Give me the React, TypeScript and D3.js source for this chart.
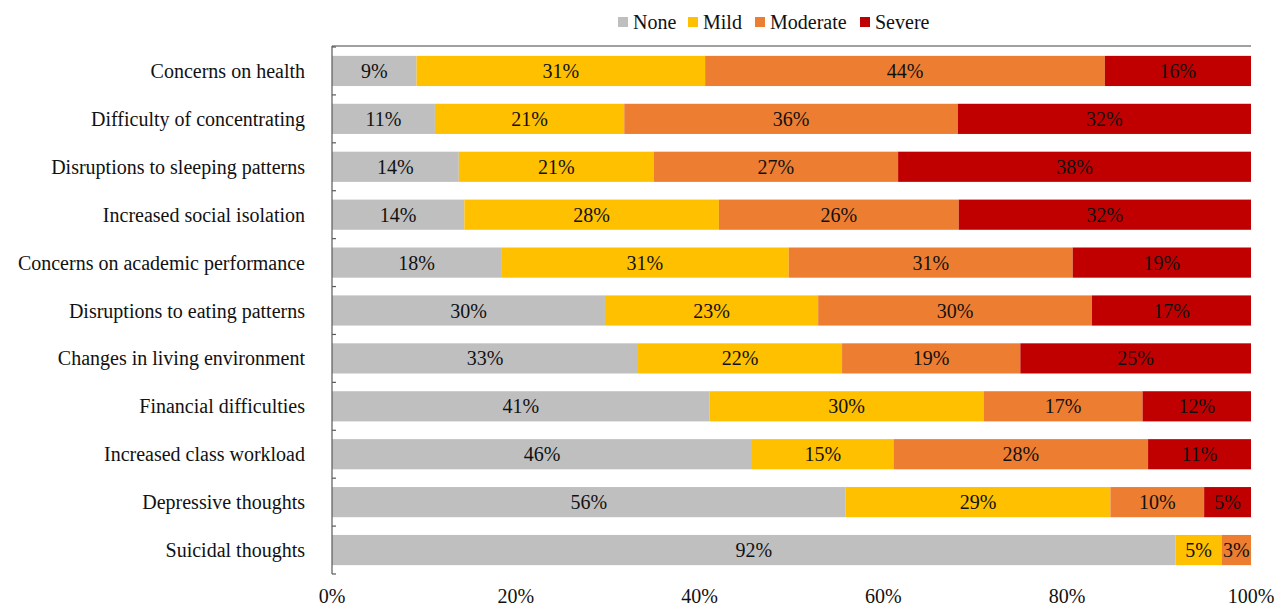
import React from "react";
import * as d3 from "d3";

const categories = [
  "Concerns on health",
  "Difficulty of concentrating",
  "Disruptions to sleeping patterns",
  "Increased social isolation",
  "Concerns on academic performance",
  "Disruptions to eating patterns",
  "Changes in living environment",
  "Financial difficulties",
  "Increased class workload",
  "Depressive thoughts",
  "Suicidal thoughts",
];
const seriesNames = ["None", "Mild", "Moderate", "Severe"];
const noneVals = [9.2, 11.2, 13.8, 14.4, 18.4, 29.7, 33.3, 41.1, 45.7, 55.9, 91.8];
const mildVals = [31.4, 20.6, 21.2, 27.7, 31.3, 23.2, 22.2, 29.8, 15.4, 28.8, 5.0];
const moderateVals = [43.5, 36.3, 26.6, 26.1, 30.9, 29.8, 19.4, 17.3, 27.7, 10.2, 3.2];
const severeVals = [15.9, 31.9, 38.4, 31.8, 19.4, 17.3, 25.1, 11.8, 11.2, 5.1, 0];
const xTicks = [0, 20, 40, 60, 80, 100];
const colors = ["#BFBFBF", "#FFC000", "#ED7D31", "#C00000"];

export default function App() {
  const W = 1275, H = 608;
  const left = 332, right = 1251, top = 47, bottom = 574;
  const x = d3.scaleLinear().domain([0, 100]).range([left, right]);
  const y = d3.scaleBand().domain(categories).range([top, bottom]).paddingInner(0.37).paddingOuter(0.185);
  const rows = categories.map((c, i) => ({ cat: c, vals: [noneVals[i], mildVals[i], moderateVals[i], severeVals[i]] }));
  const font = "'Liberation Serif', 'Times New Roman', serif";
  const legendX = [618, 688, 755, 860];
  const step = (bottom - top) / categories.length;
  const fs = 20;
  return (
    <svg width={W} height={H} style={{ position: "absolute", left: 0, top: 0, background: "#fff" }} fontFamily={font}>
      {seriesNames.map((s, i) => (
        <g key={s}>
          <rect x={legendX[i]} y={17} width={10} height={10} fill={colors[i]} />
          <text x={legendX[i] + 15} y={29} fontSize={fs} fill="#111">{s}</text>
        </g>
      ))}
      <line x1={left} x2={right} y1={top - 1} y2={top - 1} stroke="#808080" strokeWidth={1.5} />
      {rows.map((r) => {
        let acc = 0;
        const yy = y(r.cat)!;
        return (
          <g key={r.cat}>
            {r.vals.map((v, j) => {
              const x0 = x(acc);
              acc += v;
              const x1 = x(acc);
              if (v <= 0) return null;
              return (
                <g key={j}>
                  <rect x={x0} y={yy} width={x1 - x0} height={y.bandwidth()} fill={colors[j]} />
                  <text x={(x0 + x1) / 2} y={yy + y.bandwidth() / 2 + 7} textAnchor="middle" fontSize={fs} fill="#111">
                    {d3.format(".0f")(v)}%
                  </text>
                </g>
              );
            })}
            <text x={305} y={yy + y.bandwidth() / 2 + 7} textAnchor="end" fontSize={fs} fill="#111">{r.cat}</text>
          </g>
        );
      })}
      <line x1={left} x2={left} y1={top - 1} y2={bottom} stroke="#595959" strokeWidth={1.2} />
      {d3.range(categories.length + 1).map((i) => (
        <line key={i} x1={left} x2={left + 4} y1={top + i * step} y2={top + i * step} stroke="#595959" strokeWidth={1.2} />
      ))}
      {xTicks.map((t) => (
        <text key={t} x={x(t)} y={603} textAnchor="middle" fontSize={fs} fill="#111">{t}%</text>
      ))}
    </svg>
  );
}
